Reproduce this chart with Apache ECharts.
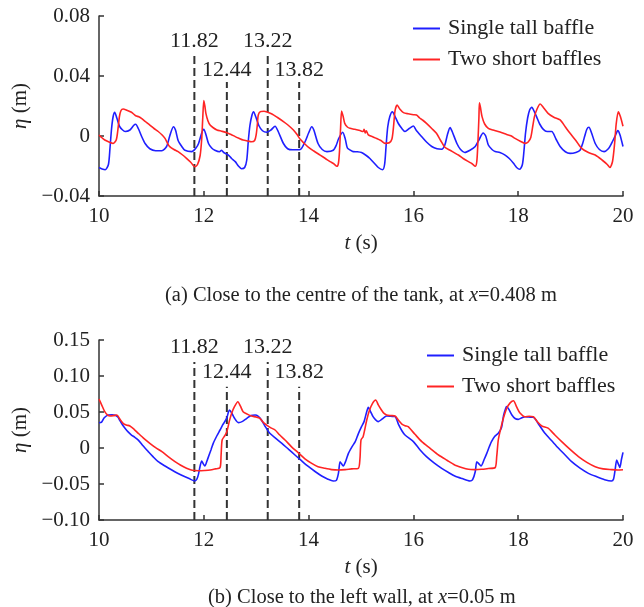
<!DOCTYPE html>
<html>
<head>
<meta charset="utf-8">
<script src="https://cdn.jsdelivr.net/npm/echarts@6/dist/echarts.min.js"></script>
<style>
  html, body { margin: 0; padding: 0; background: #fff; }
  #chart { width: 644px; height: 607px; }
</style>
</head>
<body>
<div id="chart"></div>
<script>
// Free-surface elevation η(t) at two gauges, single tall baffle vs two short baffles
const seriesNames = ['Single tall baffle', 'Two short baffles'];

// (a) gauge near the tank centre, x = 0.408 m  —  [t (s), η (m)]
const centreSingleTall = [
  [10.00,-0.021],[10.06,-0.022],[10.12,-0.0225],[10.18,-0.019],[10.21,-0.008],[10.24,0.005],[10.27,0.013],[10.30,0.0158],
  [10.34,0.012],[10.40,0.006],[10.50,0.003],[10.59,0.004],[10.66,0.007],[10.70,0.0078],[10.75,0.005],[10.81,0.000],
  [10.88,-0.005],[10.97,-0.0085],[11.08,-0.0098],[11.20,-0.0098],[11.29,-0.007],[11.35,0.000],[11.42,0.0062],[11.46,0.004],
  [11.51,-0.003],[11.58,-0.007],[11.64,-0.0095],[11.77,-0.0104],[11.85,-0.008],[11.90,-0.005],[11.96,0.002],[12.00,0.0045],
  [12.04,0.001],[12.09,-0.005],[12.15,-0.008],[12.21,-0.0095],[12.30,-0.0105],[12.34,-0.0095],[12.38,-0.011],[12.47,-0.0127],
  [12.53,-0.015],[12.60,-0.0171],[12.66,-0.020],[12.72,-0.0218],[12.78,-0.021],[12.82,-0.016],[12.85,-0.003],[12.88,0.007],
  [12.92,0.014],[12.95,0.0162],[12.99,0.013],[13.05,0.007],[13.12,0.0035],[13.20,0.0025],[13.28,0.004],[13.36,0.0065],
  [13.42,0.003],[13.52,-0.005],[13.60,-0.0085],[13.70,-0.0092],[13.84,-0.009],[13.93,-0.004],[14.00,0.002],[14.06,0.0062],
  [14.10,0.004],[14.18,-0.005],[14.26,-0.009],[14.35,-0.0104],[14.47,-0.0095],[14.53,-0.006],[14.57,-0.002],[14.65,0.0025],
  [14.70,-0.002],[14.74,-0.008],[14.80,-0.0095],[14.85,-0.0104],[14.93,-0.0105],[15.01,-0.011],[15.10,-0.013],[15.17,-0.015],
  [15.25,-0.018],[15.33,-0.021],[15.41,-0.0225],[15.45,-0.019],[15.48,-0.006],[15.51,0.006],[15.55,0.013],[15.60,0.0162],
  [15.65,0.013],[15.71,0.0085],[15.78,0.005],[15.84,0.003],[15.92,0.005],[16.00,0.0067],[16.05,0.004],[16.16,-0.0005],
  [16.25,-0.004],[16.35,-0.007],[16.45,-0.0085],[16.54,-0.0088],[16.60,-0.006],[16.65,0.001],[16.70,0.0056],[16.74,0.003],
  [16.83,-0.005],[16.90,-0.009],[16.98,-0.011],[17.08,-0.0095],[17.18,-0.007],[17.26,-0.002],[17.33,0.002],[17.38,0.000],
  [17.43,-0.006],[17.50,-0.009],[17.56,-0.0104],[17.65,-0.011],[17.75,-0.0127],[17.83,-0.015],[17.91,-0.0182],[17.97,-0.021],
  [18.03,-0.0222],[18.08,-0.019],[18.11,-0.010],[18.14,0.002],[18.18,0.012],[18.22,0.0175],[18.26,0.0191],[18.31,0.016],
  [18.35,0.0129],[18.41,0.008],[18.48,0.0044],[18.55,0.003],[18.64,0.003],[18.72,-0.002],[18.80,-0.007],[18.90,-0.0105],
  [18.99,-0.0116],[19.10,-0.011],[19.18,-0.0095],[19.23,-0.005],[19.27,0.000],[19.31,0.0045],[19.35,0.0058],[19.40,0.002],
  [19.47,-0.005],[19.55,-0.009],[19.64,-0.0104],[19.72,-0.0085],[19.78,-0.005],[19.85,0.000],[19.90,0.0036],[19.94,0.001],
  [20.00,-0.007]
];
const centreTwoShort = [
  [10.00,0.0007],[10.05,-0.001],[10.11,-0.0027],[10.19,-0.004],[10.27,-0.005],[10.33,-0.0025],[10.36,0.004],[10.39,0.013],
  [10.42,0.017],[10.46,0.018],[10.53,0.0172],[10.62,0.0158],[10.70,0.0135],[10.76,0.0128],[10.81,0.0118],[10.89,0.0095],
  [10.97,0.0073],[11.05,0.005],[11.13,0.003],[11.20,0.0008],[11.26,-0.0016],[11.31,-0.005],[11.35,-0.0071],[11.43,-0.009],
  [11.51,-0.0104],[11.59,-0.0125],[11.67,-0.0149],[11.75,-0.0175],[11.83,-0.0205],[11.88,-0.019],[11.93,-0.013],[11.96,-0.002],
  [11.98,0.012],[12.00,0.0236],[12.02,0.020],[12.04,0.0151],[12.08,0.010],[12.12,0.0073],[12.18,0.0055],[12.25,0.004],
  [12.34,0.0032],[12.44,0.0022],[12.52,0.001],[12.60,-0.0004],[12.67,-0.0015],[12.75,-0.0027],[12.83,-0.0033],[12.91,-0.0038],
  [12.97,-0.003],[13.00,0.001],[13.02,0.007],[13.04,0.014],[13.08,0.0162],[13.15,0.0165],[13.22,0.0158],[13.30,0.0147],
  [13.40,0.0125],[13.52,0.0096],[13.60,0.0075],[13.71,0.004],[13.78,0.001],[13.84,-0.0022],[13.92,-0.005],[14.00,-0.0076],
  [14.10,-0.010],[14.22,-0.0127],[14.32,-0.015],[14.41,-0.0171],[14.48,-0.0185],[14.54,-0.0202],[14.57,-0.018],[14.59,-0.010],
  [14.61,0.005],[14.63,0.0167],[14.66,0.013],[14.69,0.0084],[14.74,0.006],[14.79,0.0051],[14.88,0.0045],[14.98,0.0036],
  [15.04,0.003],[15.06,0.0045],[15.08,0.002],[15.10,0.0035],[15.14,0.0007],[15.22,-0.0005],[15.30,-0.0016],[15.38,-0.003],
  [15.46,-0.0049],[15.54,-0.0045],[15.59,-0.002],[15.62,0.006],[15.65,0.0169],[15.69,0.0207],[15.74,0.018],[15.81,0.0156],
  [15.90,0.0148],[16.00,0.0142],[16.06,0.014],[16.12,0.012],[16.18,0.0105],[16.25,0.0084],[16.35,0.005],[16.44,0.0018],
  [16.52,-0.003],[16.60,-0.0075],[16.70,-0.0095],[16.86,-0.0127],[16.95,-0.015],[17.05,-0.0171],[17.12,-0.0185],[17.18,-0.0202],
  [17.21,-0.017],[17.23,-0.005],[17.25,0.012],[17.26,0.0222],[17.28,0.019],[17.31,0.0129],[17.36,0.008],[17.43,0.0051],
  [17.52,0.004],[17.60,0.0032],[17.69,0.0022],[17.78,0.001],[17.86,0.0002],[17.94,-0.0016],[18.04,-0.0035],[18.13,-0.0049],
  [18.19,-0.004],[18.24,-0.001],[18.28,0.007],[18.31,0.0129],[18.36,0.018],[18.42,0.0213],[18.48,0.019],[18.57,0.0151],
  [18.68,0.0125],[18.80,0.0107],[18.90,0.006],[18.99,0.0018],[19.10,-0.003],[19.21,-0.0082],[19.34,-0.011],[19.47,-0.0127],
  [19.60,-0.016],[19.70,-0.019],[19.75,-0.021],[19.80,-0.017],[19.84,-0.005],[19.87,0.008],[19.91,0.0162],[19.95,0.013],
  [20.00,0.0065]
];

// (b) gauge near the left wall, x = 0.05 m  —  [t (s), η (m)]
const wallSingleTall = [
  [10.00,0.035],[10.05,0.036],[10.10,0.042],[10.18,0.0458],[10.25,0.046],[10.31,0.0455],[10.36,0.043],[10.40,0.038],
  [10.45,0.032],[10.50,0.027],[10.56,0.022],[10.62,0.018],[10.68,0.015],[10.75,0.011],[10.84,0.003],[10.94,-0.005],
  [11.03,-0.012],[11.13,-0.019],[11.26,-0.025],[11.39,-0.0306],[11.50,-0.035],[11.61,-0.039],[11.72,-0.0425],[11.83,-0.0458],
  [11.87,-0.043],[11.90,-0.036],[11.93,-0.025],[11.96,-0.018],[11.99,-0.022],[12.02,-0.025],[12.06,-0.018],[12.09,-0.012],
  [12.14,-0.002],[12.18,0.0065],[12.25,0.017],[12.31,0.025],[12.36,0.032],[12.40,0.0366],[12.44,0.042],[12.47,0.050],
  [12.49,0.0528],[12.53,0.049],[12.58,0.042],[12.66,0.0352],[12.74,0.037],[12.82,0.0412],[12.90,0.045],[12.98,0.0458],
  [13.04,0.044],[13.10,0.0389],[13.18,0.029],[13.26,0.0204],[13.38,0.013],[13.49,0.0065],[13.62,-0.002],[13.74,-0.0097],
  [13.87,-0.018],[14.00,-0.026],[14.13,-0.033],[14.25,-0.0389],[14.36,-0.043],[14.47,-0.0458],[14.53,-0.045],[14.57,-0.035],
  [14.60,-0.019],[14.63,-0.022],[14.66,-0.025],[14.71,-0.018],[14.76,-0.0074],[14.83,0.002],[14.89,0.0088],[14.95,0.020],
  [15.01,0.0296],[15.06,0.037],[15.10,0.048],[15.14,0.0565],[15.18,0.051],[15.23,0.0435],[15.28,0.039],[15.33,0.0366],
  [15.40,0.040],[15.49,0.0444],[15.57,0.044],[15.65,0.0435],[15.72,0.032],[15.78,0.024],[15.84,0.018],[16.00,0.0088],
  [16.12,-0.002],[16.25,-0.012],[16.40,-0.021],[16.54,-0.0282],[16.67,-0.034],[16.79,-0.0389],[16.93,-0.0425],[17.08,-0.0458],
  [17.13,-0.044],[17.18,-0.033],[17.21,-0.019],[17.25,-0.022],[17.29,-0.025],[17.35,-0.016],[17.40,-0.0074],[17.45,0.002],
  [17.49,0.0088],[17.55,0.016],[17.62,0.0204],[17.68,0.028],[17.72,0.045],[17.76,0.055],[17.78,0.0574],[17.82,0.054],
  [17.88,0.0458],[17.94,0.041],[18.00,0.0398],[18.07,0.042],[18.13,0.0435],[18.20,0.043],[18.29,0.0426],[18.40,0.032],
  [18.51,0.0204],[18.64,0.010],[18.77,-0.0004],[18.90,-0.010],[19.02,-0.019],[19.18,-0.028],[19.34,-0.0352],[19.50,-0.040],
  [19.65,-0.044],[19.78,-0.0458],[19.82,-0.043],[19.85,-0.030],[19.88,-0.0167],[19.91,-0.022],[19.94,-0.027],[19.97,-0.016],
  [20.00,-0.006]
];
const wallTwoShort = [
  [10.00,0.068],[10.05,0.060],[10.11,0.0504],[10.16,0.046],[10.21,0.0444],[10.28,0.045],[10.34,0.0458],[10.40,0.040],
  [10.46,0.0343],[10.52,0.032],[10.59,0.0306],[10.67,0.026],[10.75,0.0204],[10.86,0.013],[10.97,0.0065],[11.08,0.0005],
  [11.20,-0.0051],[11.32,-0.012],[11.45,-0.019],[11.56,-0.024],[11.67,-0.0282],[11.78,-0.031],[11.90,-0.0315],[12.01,-0.0312],
  [12.12,-0.0306],[12.22,-0.029],[12.31,-0.0273],[12.33,-0.010],[12.35,0.0111],[12.40,0.017],[12.44,0.0227],[12.49,0.038],
  [12.53,0.048],[12.59,0.058],[12.65,0.0643],[12.70,0.058],[12.75,0.0504],[12.83,0.047],[12.91,0.0444],[13.00,0.043],
  [13.07,0.0412],[13.13,0.036],[13.20,0.0319],[13.28,0.028],[13.36,0.025],[13.45,0.018],[13.55,0.0111],[13.67,0.002],
  [13.80,-0.0065],[13.93,-0.015],[14.06,-0.0213],[14.18,-0.026],[14.31,-0.0282],[14.44,-0.030],[14.57,-0.0306],[14.70,-0.030],
  [14.82,-0.029],[14.95,-0.0282],[14.98,-0.015],[15.00,0.0111],[15.04,0.0157],[15.07,0.025],[15.11,0.0389],[15.16,0.052],
  [15.22,0.062],[15.28,0.0667],[15.33,0.060],[15.39,0.0528],[15.44,0.048],[15.49,0.0458],[15.57,0.045],[15.65,0.0444],
  [15.72,0.038],[15.78,0.0333],[15.84,0.031],[15.90,0.0296],[16.03,0.019],[16.16,0.0088],[16.32,-0.0005],[16.48,-0.0097],
  [16.64,-0.017],[16.79,-0.0236],[16.92,-0.027],[17.05,-0.0296],[17.17,-0.030],[17.30,-0.0296],[17.43,-0.0285],[17.56,-0.0273],
  [17.59,-0.012],[17.62,0.0111],[17.67,0.028],[17.72,0.042],[17.78,0.055],[17.85,0.063],[17.91,0.0657],[17.97,0.057],
  [18.03,0.049],[18.13,0.0435],[18.21,0.044],[18.29,0.0435],[18.37,0.036],[18.45,0.0306],[18.57,0.0275],[18.70,0.018],
  [18.83,0.0088],[18.99,-0.002],[19.15,-0.012],[19.31,-0.020],[19.47,-0.026],[19.62,-0.029],[19.78,-0.030],[19.90,-0.0305],
  [20.00,-0.0302]
];

// Instants marked by dashed verticals (s)
const markedTimes = [11.82, 12.44, 13.22, 13.82];

// Axis ticks and their printed labels
const timeTicks = [10, 12, 14, 16, 18, 20];
const centreEtaTicks = [-0.04, 0, 0.04, 0.08];
const centreEtaLabels = ['\u22120.04', '0', '0.04', '0.08'];
const wallEtaTicks = [-0.10, -0.05, 0, 0.05, 0.10, 0.15];
const wallEtaLabels = ['\u22120.10', '\u22120.05', '0', '0.05', '0.10', '0.15'];

const captions = [
  '(a) Close to the centre of the tank, at {i|x}=0.408 m',
  '(b) Close to the left wall, at {i|x}=0.05 m'
];

// ---------------------------------------------------------------- styling
const FONT = 'Liberation Serif';
const INK = '#222';
const COLORS = ['#1f1fff', '#ff2424'];

function lookupLabel(ticks, labels) {
  return v => {
    for (let i = 0; i < ticks.length; i++) if (Math.abs(ticks[i] - v) < 1e-9) return labels[i];
    return '';
  };
}

const panels = [
  { top: 16, ticks: centreEtaTicks, labels: centreEtaLabels, data: [centreSingleTall, centreTwoShort],
    markTop: [0.0553, 0.036], markLabelGap: 0, legendLeft: 413, legendTop: 16,
    captionLeft: 165, captionTop: 285 },
  { top: 340, ticks: wallEtaTicks, labels: wallEtaLabels, data: [wallSingleTall, wallTwoShort],
    markTop: [0.1194, 0.085], markLabelGap: 3, legendLeft: 427, legendTop: 343,
    captionLeft: 208, captionTop: 587 }
];

const grid = [], xAxis = [], yAxis = [], series = [], legend = [], title = [];
const axisLineStyle = { color: '#333', width: 1.5 };
const nameStyle = { fontFamily: FONT, fontSize: 21, color: INK,
  rich: { i: { fontFamily: FONT, fontSize: 21, fontStyle: 'italic', color: INK } } };

panels.forEach((p, k) => {
  const yMin = p.ticks[0], yMax = p.ticks[p.ticks.length - 1];
  const yStep = p.ticks[1] - p.ticks[0];
  grid.push({ left: 99, top: p.top, width: 524, height: 180 });
  xAxis.push({
    type: 'value', gridIndex: k, min: timeTicks[0], max: timeTicks[timeTicks.length - 1],
    interval: timeTicks[1] - timeTicks[0],
    axisLine: { onZero: false, lineStyle: axisLineStyle },
    axisTick: { inside: true, length: 5, lineStyle: axisLineStyle },
    axisLabel: { fontFamily: FONT, fontSize: 21, color: INK, margin: 10 },
    splitLine: { show: false },
    name: '{i|t} (s)', nameLocation: 'middle', nameGap: 37, nameTextStyle: nameStyle
  });
  yAxis.push({
    type: 'value', gridIndex: k, min: yMin, max: yMax, interval: yStep,
    axisLine: { show: true, onZero: false, lineStyle: axisLineStyle },
    axisTick: { show: true, inside: true, length: 5, lineStyle: axisLineStyle },
    axisLabel: { fontFamily: FONT, fontSize: 21, color: INK, margin: 9, formatter: lookupLabel(p.ticks, p.labels) },
    splitLine: { show: false },
    name: '{i|\u03B7} (m)', nameLocation: 'middle', nameRotate: 90, nameGap: 66, nameTextStyle: nameStyle
  });
  p.data.forEach((d, s) => {
    series.push({
      name: seriesNames[s], type: 'line', xAxisIndex: k, yAxisIndex: k,
      data: d, showSymbol: false, symbol: 'none', smooth: 0.25,
      lineStyle: { color: COLORS[s], width: 1.6 }, itemStyle: { color: COLORS[s] },
      z: 3 + s, animation: false
    });
  });
  markedTimes.forEach((t, m) => {
    const top = p.markTop[m % 2];
    series.push({
      name: 'mark' + k + '_' + m, type: 'line', xAxisIndex: k, yAxisIndex: k,
      data: [
        { value: [t, yMin], symbol: 'none' },
        { value: [t, top], symbol: 'circle', symbolSize: 1,
          label: { show: true, position: 'top', distance: p.markLabelGap, formatter: String(t),
                   fontFamily: FONT, fontSize: 22, color: INK } }
      ],
      showSymbol: true, itemStyle: { color: 'rgba(0,0,0,0)' },
      lineStyle: { color: '#333', width: 2, type: [8, 4] },
      z: 2, animation: false, silent: true
    });
  });
  legend.push({
    orient: 'vertical', left: p.legendLeft, top: p.legendTop, padding: 0, itemGap: 6,
    itemWidth: 27, itemHeight: 2, icon: 'rect', data: seriesNames, selectedMode: false,
    textStyle: { fontFamily: FONT, fontSize: 22, color: INK, lineHeight: 25, padding: [0, 0, 0, 3] }
  });
  title.push({
    text: captions[k], left: p.captionLeft, top: p.captionTop, padding: 0,
    textStyle: { fontFamily: FONT, fontSize: 20.5, fontWeight: 'normal', color: INK,
      rich: { i: { fontFamily: FONT, fontSize: 20.5, fontStyle: 'italic', color: INK } } }
  });
});

const chart = echarts.init(document.getElementById('chart'), null, { renderer: 'canvas' });
chart.setOption({
  backgroundColor: '#fff',
  animation: false,
  title, grid, xAxis, yAxis, series, legend
});
</script>
</body>
</html>
